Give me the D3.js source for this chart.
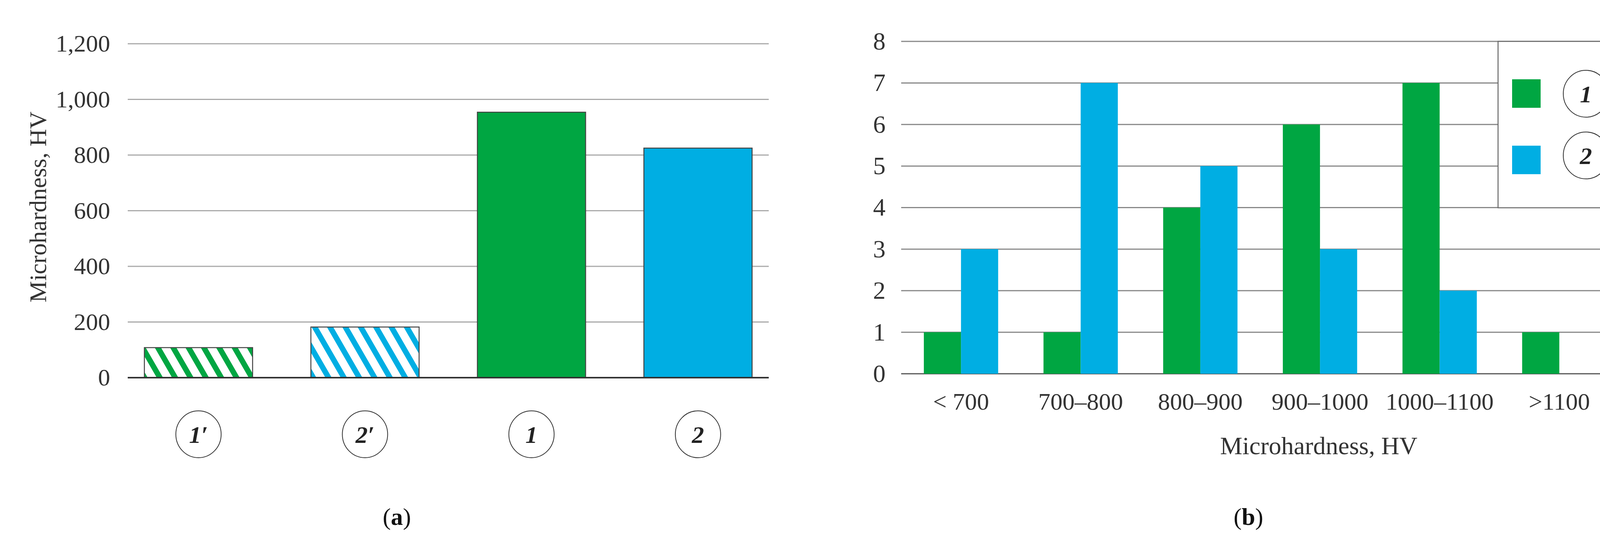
<!DOCTYPE html>
<html><head><meta charset="utf-8">
<script src="https://cdn.jsdelivr.net/npm/d3@7"></script>
<style>body{margin:0;background:#fff}</style>
</head><body>
<script>
var green = '#00a642', blue = '#00aee3'
// panel (a)
var aLabels = ["1′", "2′", "1", "2"]
var aValues = [108, 182, 954, 825]
var aFills = ['hatchG', 'hatchB', 'green', 'blue']
var aTicks = [0, 200, 400, 600, 800, 1000, 1200]
// panel (b)
var bCats = ['< 700', '700–800', '800–900', '900–1000', '1000–1100', '>1100']
var bSeries = ['1', '2']
var bS1 = [1, 1, 4, 6, 7, 1]
var bS2 = [3, 7, 5, 3, 2, 0]
var bTicks = [0, 1, 2, 3, 4, 5, 6, 7, 8]

var W = 4206, H = 1375
var font = '"Liberation Serif", "Times New Roman", serif'
var svg = d3.select('body').append('svg').attr('width', W).attr('height', H)
    .style('font-family', font)

var defs = svg.append('defs')
function hatch(id, col) {
    var p = defs.append('pattern').attr('id', id).attr('patternUnits', 'userSpaceOnUse')
        .attr('width', 34).attr('height', 34).attr('patternTransform', 'rotate(-30)')
    p.append('rect').attr('width', 34).attr('height', 34).attr('fill', '#fff')
    p.append('rect').attr('width', 14).attr('height', 34).attr('fill', col)
}
hatch('hatchG', green)
hatch('hatchB', blue)

function circled(g, x, y, txt) {
    g.append('ellipse').attr('cx', x).attr('cy', y).attr('rx', 58).attr('ry', 60)
        .attr('fill', '#fff').attr('stroke', '#333').attr('stroke-width', 2)
    g.append('text').attr('x', x).attr('y', y).attr('dy', '0.35em')
        .attr('text-anchor', 'middle').attr('font-size', 62).attr('font-style', 'italic')
        .attr('font-weight', 'bold').attr('fill', '#222').text(txt)
}

// ---- panel a
var ax = d3.scaleBand().domain(aLabels).range([327, 1968]).paddingInner(0.35).paddingOuter(0.1)
var ay = d3.scaleLinear().domain([0, 1200]).range([967, 112])
var ga = svg.append('g')
ga.selectAll('.grid').data(aTicks.slice(1)).enter().append('line')
    .attr('x1', 327).attr('x2', 1968).attr('y1', d => ay(d)).attr('y2', d => ay(d))
    .attr('stroke', '#aaa').attr('stroke-width', 3)
ga.append('g').attr('transform', 'translate(327,0)')
    .call(d3.axisLeft(ay).tickValues(aTicks).tickSize(0).tickPadding(45))
    .call(g => g.select('.domain').remove())
    .call(g => g.selectAll('text').attr('font-size', 62).attr('font-family', font).attr('fill', '#333'))
ga.selectAll('.bar').data(aValues).enter().append('rect')
    .attr('x', (d, i) => ax(aLabels[i])).attr('width', ax.bandwidth())
    .attr('y', d => ay(d)).attr('height', d => ay(0) - ay(d))
    .attr('fill', (d, i) => aFills[i] == 'green' ? green : aFills[i] == 'blue' ? blue : 'url(#' + aFills[i] + ')')
    .attr('stroke', '#444').attr('stroke-width', 2.5)
ga.append('line').attr('x1', 327).attr('x2', 1968).attr('y1', ay(0)).attr('y2', ay(0))
    .attr('stroke', '#333').attr('stroke-width', 4)
aLabels.forEach(l => circled(ga, ax(l) + ax.bandwidth() / 2, 1112, l))
ga.append('text').attr('transform', 'translate(96,530) rotate(-90)').attr('text-anchor', 'middle')
    .attr('dy', '0.35em').attr('font-size', 62).attr('fill', '#333').text('Microhardness, HV')
ga.append('text').attr('x', 1016).attr('y', 1322).attr('dy', '0.35em').attr('text-anchor', 'middle')
    .attr('font-size', 62).attr('fill', '#111').html('(<tspan font-weight="bold">a</tspan>)')

// ---- panel b
var bx = d3.scaleBand().domain(bCats).range([2307, 4145])
var bx1 = d3.scaleBand().domain(bSeries).range([0, bx.bandwidth()]).paddingOuter(0.61).paddingInner(0)
var by = d3.scaleLinear().domain([0, 8]).range([957, 106])
var gb = svg.append('g')
gb.selectAll('.grid').data(bTicks).enter().append('line')
    .attr('x1', 2307).attr('x2', 4145).attr('y1', d => by(d)).attr('y2', d => by(d))
    .attr('stroke', d => d == 0 ? '#555' : '#888').attr('stroke-width', 3)
gb.append('g').attr('transform', 'translate(2307,0)')
    .call(d3.axisLeft(by).tickValues(bTicks).tickSize(0).tickPadding(40))
    .call(g => g.select('.domain').remove())
    .call(g => g.selectAll('text').attr('font-size', 64).attr('font-family', font).attr('fill', '#333'))
var rows = bCats.map((c, i) => ({cat: c, vals: [bS1[i], bS2[i]]}))
var grp = gb.selectAll('.grp').data(rows).enter().append('g')
    .attr('transform', d => 'translate(' + bx(d.cat) + ',0)')
grp.selectAll('rect').data(d => d.vals.map((v, j) => ({s: bSeries[j], v: v}))).enter().append('rect')
    .attr('x', d => bx1(d.s)).attr('width', bx1.bandwidth())
    .attr('y', d => by(d.v)).attr('height', d => by(0) - by(d.v))
    .attr('fill', d => d.s == '1' ? green : blue)
gb.append('g').attr('transform', 'translate(0,957)')
    .call(d3.axisBottom(bx).tickSize(0).tickPadding(48))
    .call(g => g.select('.domain').remove())
    .call(g => g.selectAll('text').attr('font-size', 62).attr('font-family', font).attr('fill', '#333'))
gb.append('text').attr('x', 3376).attr('y', 1141).attr('dy', '0.35em').attr('text-anchor', 'middle')
    .attr('font-size', 64).attr('fill', '#333').text('Microhardness, HV')
gb.append('text').attr('x', 3196).attr('y', 1322).attr('dy', '0.35em').attr('text-anchor', 'middle')
    .attr('font-size', 62).attr('fill', '#111').html('(<tspan font-weight="bold">b</tspan>)')
// legend
gb.append('rect').attr('x', 3835).attr('y', 106).attr('width', 310).attr('height', 426)
    .attr('fill', '#fff').attr('stroke', '#666').attr('stroke-width', 2.5)
bSeries.forEach((s, i) => {
    gb.append('rect').attr('x', 3871).attr('y', 203 + i * 170).attr('width', 73).attr('height', 73)
        .attr('fill', s == '1' ? green : blue)
    circled(gb, 4060, 240 + i * 158, s)
})
</script>
</body></html>
